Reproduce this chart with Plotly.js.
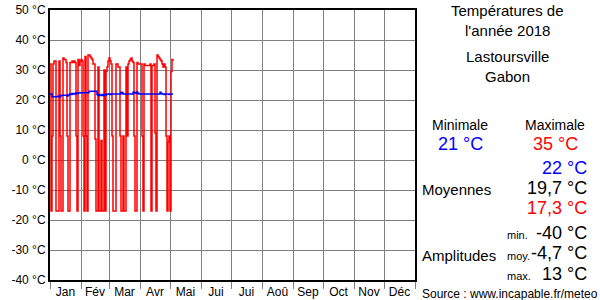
<!DOCTYPE html>
<html><head><meta charset="utf-8">
<script src="https://cdn.plot.ly/plotly-3.0.1.min.js"></script>
<style>html,body{margin:0;padding:0;background:#fff}#c{width:600px;height:300px}</style>
</head><body><div id="c"></div>
<script>
const monthNames = ['Jan','Fév','Mar','Avr','Mai','Jui','Jui','Aoû','Sep','Oct','Nov','Déc'];
const monthStarts = [0,31,59,90,120,151,181,212,243,273,304,334,365];
const yTicks = [-40,-30,-20,-10,0,10,20,30,40,50];

const maxTemps = [32,-17,8,32,33,33,-17,-17,-17,33,8,-17,-17,34,33.5,33.5,32.5,8,-17,-17,
32.5,32.5,33,32.5,33,32.5,8,-17,33.5,31.5,33,33.5,33,8,-17,34.5,8,-17,35,35,
34.5,34,33.5,32,32,7,-17,-17,31,-17,-17,6.5,-17,-17,30,-17,29.5,31,33,34,
33,32,8,-17,-17,-17,32,32,31,31,8,-17,-17,8,-17,-17,31,8,32,33,
33.5,34,33,32.5,8,-17,-17,32.5,32,32,32,32,8,-17,32,31.5,31.5,31.5,31.5,31.5,
32,-17,31.5,31.5,32,9,-17,35,34.5,34,33.5,33,32,31,32,31,8,-17,6,8,
-17,29.5,33.5,33];

const meanTemps = [22,22,21.1,21.1,21.1,21.1,21.1,21.1,21.3,21.1,21.1,21.6,21.6,21.6,21.6,21.6,21.6,21.3,21.6,21.8,
22,21.8,22.2,22,22.2,22,22.3,22.2,22.3,22.3,22.4,22.4,22.4,22.4,22.4,22.4,22.4,22.4,22.4,22.9,
22.9,22.9,22.9,22.9,22.9,22.9,22.9,21.8,21.5,21.8,21.5,21.5,21.8,21.5,21.8,21.6,21.8,22,22,22,
21.8,22,22,22,22,22,22,22,22,22,22,22.6,22.4,22,22,22,22,22,22,22,
22,22,22,22.6,22.4,22.6,22.2,22.6,22.2,22,22,22,22,22,22,22,22,22,22,22,
22,22,22,22,22,22,22,22,22,22,22.6,22.2,22,22,21.8,22,22,22,22,21.8,
22,22,22,22];

const days = maxTemps.map((_, i) => i);
const monthMids = monthNames.map((_, i) => (monthStarts[i] + monthStarts[i+1]) / 2);

const traces = [
  {x: days, y: maxTemps, type: 'scatter', mode: 'lines', line: {color: '#ff0000', width: 1.5, shape: 'hv'}, hoverinfo: 'skip'},
  {x: days, y: meanTemps, type: 'scatter', mode: 'lines', line: {color: '#0000ff', width: 1.5, shape: 'hv'}, hoverinfo: 'skip'}
];

const px = x => (x - 50) / 365;
const py = y => (280 - y) / 270;
const F = 'Liberation Sans, Arial, sans-serif';
function ann(text, x, y, anchor, size, color) {
  return {text: text, x: px(x), y: py(y), xref: 'paper', yref: 'paper', xanchor: anchor, yanchor: 'middle',
    showarrow: false, font: {family: F, size: size, color: color || '#000'}};
}
const annotations = [
  ann('Températures de', 507, 10, 'center', 15),
  ann("l'année 2018", 507, 31, 'center', 15),
  ann('Lastoursville', 507, 57, 'center', 15),
  ann('Gabon', 507, 77, 'center', 15),
  ann('Minimale', 460, 125, 'center', 14),
  ann('Maximale', 555, 125, 'center', 14),
  ann('21 °C', 460, 144, 'center', 18, '#0000ff'),
  ann('35 °C', 555, 144, 'center', 18, '#ff0000'),
  ann('22 °C', 589, 168, 'right', 18, '#0000ff'),
  ann('Moyennes', 420, 189, 'left', 15),
  ann('19,7 °C', 589, 188, 'right', 18),
  ann('17,3 °C', 589, 208, 'right', 18, '#ff0000'),
  ann('min.', 505, 235, 'left', 11),
  ann('-40 °C', 589, 233, 'right', 18),
  ann('Amplitudes', 420, 255, 'left', 15),
  ann('moy.', 505, 256, 'left', 11),
  ann('-4,7 °C', 589, 253, 'right', 18),
  ann('max.', 505, 276, 'left', 11),
  ann('13 °C', 589, 274, 'right', 18),
  ann('Source : www.incapable.fr/meteo', 420, 294, 'left', 12)
];

const layout = {
  width: 600, height: 300,
  margin: {l: 50, r: 185, t: 10, b: 20, pad: 0},
  paper_bgcolor: '#fff', plot_bgcolor: '#fff',
  showlegend: false,
  font: {family: F, size: 12, color: '#000'},
  xaxis: {
    range: [0, 365], fixedrange: true,
    tickmode: 'array', tickvals: monthMids, ticktext: monthNames, ticks: '', showgrid: false,
    tickfont: {family: F, size: 12, color: '#000'},
    showline: true, linecolor: '#000', linewidth: 2, mirror: true, zeroline: false,
    minor: {tickmode: 'array', tickvals: monthStarts, showgrid: true, gridcolor: '#808080', gridwidth: 1,
      ticks: 'outside', ticklen: 7, tickcolor: '#808080', tickwidth: 1}
  },
  yaxis: {
    range: [-40, 50], fixedrange: true,
    tickmode: 'array', tickvals: yTicks, ticktext: yTicks.map(v => v + ' °C'), ticks: '',
    tickfont: {family: F, size: 12, color: '#000'},
    showgrid: true, gridcolor: '#808080', gridwidth: 1, zeroline: false,
    showline: true, linecolor: '#000', linewidth: 2, mirror: true
  },
  annotations: annotations
};
Plotly.newPlot('c', traces, layout, {staticPlot: true, displayModeBar: false});
</script></body></html>
